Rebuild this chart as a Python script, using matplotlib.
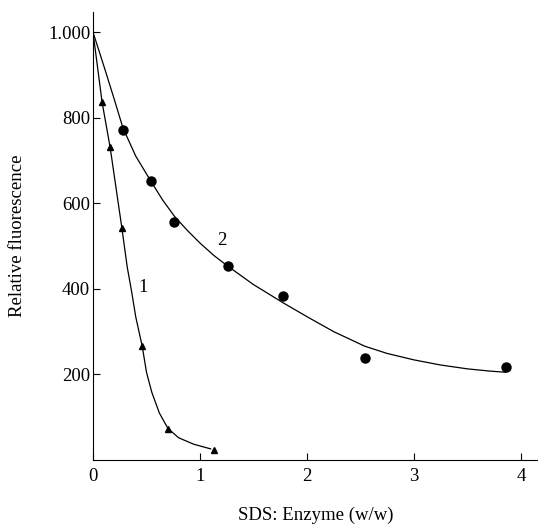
import matplotlib
matplotlib.use("Agg")
import matplotlib.pyplot as plt

# Data points
tri_x = [0.085, 0.16, 0.27, 0.46, 0.70, 1.13]
tri_y = [836, 731, 542, 266, 72, 23]
circ_x = [0.28, 0.54, 0.76, 1.26, 1.78, 2.54, 3.86]
circ_y = [771, 652, 556, 453, 383, 238, 217]

# Drawn curves
curve1_x = [0, 0.085, 0.16, 0.27, 0.32, 0.36, 0.40, 0.46, 0.50, 0.55, 0.62, 0.70, 0.80, 0.94, 1.10]
curve1_y = [1000, 836, 731, 542, 451, 395, 334, 266, 205, 158, 110, 74, 52, 37, 26]
curve2_x = [0, 0.10, 0.19, 0.28, 0.40, 0.54, 0.65, 0.76, 0.88, 1.0, 1.13, 1.26, 1.5, 1.78, 2.0, 2.25, 2.54, 2.75, 3.0, 3.25, 3.5, 3.7, 3.86]
curve2_y = [1000, 922, 850, 776, 710, 652, 608, 570, 537, 507, 478, 453, 410, 367, 335, 300, 266, 249, 234, 222, 213, 208, 205]

xticks = [0, 1, 2, 3, 4]
xticklabels = ["0", "1", "2", "3", "4"]
yticks = [200, 400, 600, 800, 1000]
yticklabels = ["200", "400", "600", "800", "1.000"]

plt.rcParams['font.family'] = ['Liberation Serif', 'DejaVu Serif']

fig = plt.figure(figsize=(5.38, 5.28), dpi=100)
ax = fig.add_axes([93/538, 1 - 460/528, 1 - 93/538, 448/528])

ax.plot(curve1_x, curve1_y, color='black', lw=0.9)
ax.plot(curve2_x, curve2_y, color='black', lw=0.9)
ax.plot(tri_x, tri_y, linestyle='none', marker='^', color='black', markersize=5)
ax.plot(circ_x, circ_y, linestyle='none', marker='o', color='black', markersize=6.5)

ax.text(0.47, 404, "1", fontsize=13.5, ha='center', va='center')
ax.text(1.2, 514, "2", fontsize=13.5, ha='center', va='center')

ax.set_xlim(0, 4.16)
ax.set_ylim(0, 1047)
ax.set_xticks(xticks)
ax.set_xticklabels(xticklabels)
ax.set_yticks(yticks)
ax.set_yticklabels(yticklabels)
ax.tick_params(direction='in', length=5, width=0.8, labelsize=13.5)
ax.tick_params(axis='y', pad=2)
ax.tick_params(axis='x', pad=6)

for s in ['top', 'right']:
    ax.spines[s].set_visible(False)
for s in ['left', 'bottom']:
    ax.spines[s].set_linewidth(0.8)

ax.set_xlabel("SDS: Enzyme (w/w)", fontsize=13.5)
ax.set_ylabel("Relative fluorescence", fontsize=13.5)
ax.xaxis.set_label_coords(0.5, -0.105)
ax.yaxis.set_label_coords(-0.15, 0.5)

fig.savefig("out.png", dpi=100)
